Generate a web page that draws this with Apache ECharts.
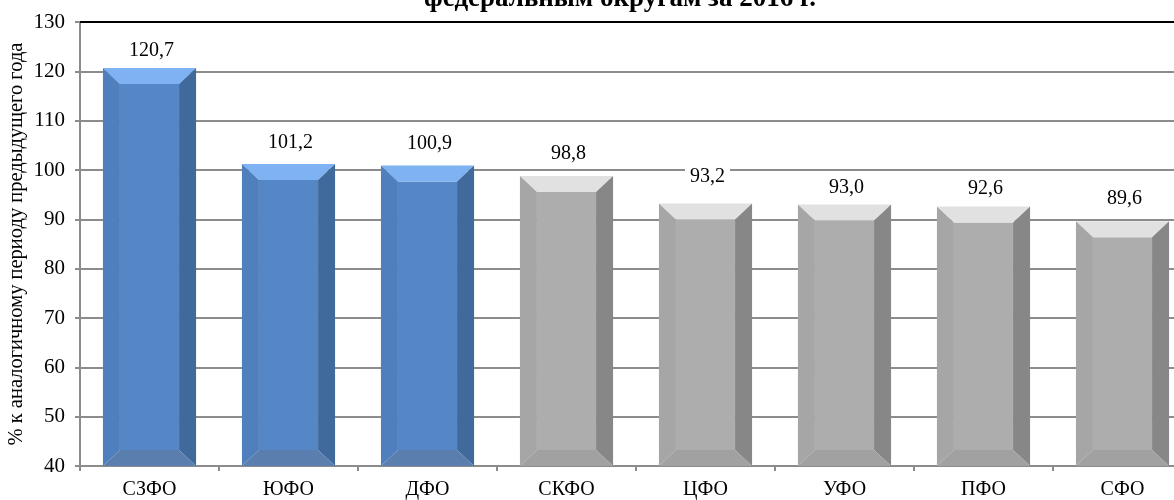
<!DOCTYPE html>
<html>
<head>
<meta charset="utf-8">
<script src="https://cdn.jsdelivr.net/npm/echarts@6/dist/echarts.min.js"></script>
<style>
  html, body { margin: 0; padding: 0; background: #fff; }
  #chart { width: 1174px; height: 500px; }
</style>
</head>
<body>
<div id="chart"></div>
<script>
// Federal districts and their index values (% of the same period of the previous year)
const categories = ['СЗФО', 'ЮФО', 'ДФО', 'СКФО', 'ЦФО', 'УФО', 'ПФО', 'СФО'];
const values = [120.7, 101.2, 100.9, 98.8, 93.2, 93.0, 92.6, 89.6];
const yTicks = [40, 50, 60, 70, 80, 90, 100, 110, 120, 130];

// How far above each bar top its value label sits (px)
const labelLift = [17, 21, 22, 22, 27, 17, 18, 23];

const FONT = '"Liberation Serif", "Times New Roman", serif';
const AXIS_MIN = yTicks[0];
const AXIS_MAX = yTicks[yTicks.length - 1];

// Face colours of the bevelled bars: growth (>100) in blue, decline in grey
const palettes = {
  up:   { front: '#5587c6', top: '#7fb2f2', left: '#4f7fbd', right: '#40699c', bottom: '#5a7faf' },
  down: { front: '#adadad', top: '#e1e1e1', left: '#a6a6a6', right: '#878787', bottom: '#a1a1a1' }
};

const BEVEL_X = 17;
const BEVEL_Y = 16;

function renderBar(params, api) {
  const idx = api.value(0);
  const val = api.value(1);
  const top = api.coord([idx, val]);
  const base = api.coord([idx, AXIS_MIN]);
  const w = api.size([1, 0])[0] * 0.67;
  const x0 = top[0] - w / 2, x1 = top[0] + w / 2;
  const y0 = top[1], y1 = base[1];
  const p = val > 100 ? palettes.up : palettes.down;
  const bx = BEVEL_X, by = Math.min(BEVEL_Y, (y1 - y0) / 2);
  const poly = (pts, fill) => ({ type: 'polygon', shape: { points: pts }, style: { fill: fill } });
  const label = String(val.toFixed(1)).replace('.', ',');
  return {
    type: 'group',
    children: [
      { type: 'rect', shape: { x: x0 + bx, y: y0 + by, width: w - 2 * bx, height: y1 - y0 - 2 * by }, style: { fill: p.front } },
      poly([[x0, y0], [x1, y0], [x1 - bx, y0 + by], [x0 + bx, y0 + by]], p.top),
      poly([[x0, y0], [x0 + bx, y0 + by], [x0 + bx, y1 - by], [x0, y1]], p.left),
      poly([[x1, y0], [x1, y1], [x1 - bx, y1 - by], [x1 - bx, y0 + by]], p.right),
      poly([[x0, y1], [x0 + bx, y1 - by], [x1 - bx, y1 - by], [x1, y1]], p.bottom),
      {
        type: 'text',
        z2: 10,
        style: {
          text: label,
          x: top[0] + 2,
          y: y0 - labelLift[params.dataIndex],
          align: 'center',
          verticalAlign: 'middle',
          font: '20px ' + FONT,
          fill: '#000',
          backgroundColor: '#fff',
          padding: [2, 5]
        }
      }
    ]
  };
}

const chart = echarts.init(document.getElementById('chart'), null, { renderer: 'canvas' });

chart.setOption({
  animation: false,
  backgroundColor: '#fff',
  title: {
    text: 'федеральным округам за 2016 г.',
    left: 615,
    textAlign: 'center',
    top: -19,
    textStyle: { fontFamily: FONT, fontSize: 27, fontWeight: 'bold', color: '#000' }
  },
  grid: { left: 80, top: 22, right: -18, bottom: 34, containLabel: false, outerBoundsMode: 'none' },
  xAxis: [
    {
      type: 'category',
      data: categories,
      axisLine: { lineStyle: { color: '#8c8c8c', width: 2 } },
      axisTick: { show: true, length: 5, lineStyle: { color: '#8c8c8c', width: 2 } },
      axisLabel: { fontFamily: FONT, fontSize: 20, color: '#000', margin: 14 },
      splitLine: { show: false }
    },
    {
      type: 'category',
      position: 'top',
      data: categories,
      axisLine: { lineStyle: { color: '#000', width: 2 } },
      axisTick: { show: false },
      axisLabel: { show: false }
    }
  ],
  yAxis: {
    type: 'value',
    min: AXIS_MIN,
    max: AXIS_MAX,
    interval: 10,
    name: '% к аналогичному периоду предыдущего года',
    nameLocation: 'middle',
    nameGap: 53,
    nameMoveOverlap: false,
    nameTextStyle: { fontFamily: FONT, fontSize: 20.5, color: '#000' },
    axisLine: { show: true, lineStyle: { color: '#8c8c8c', width: 2 } },
    axisTick: { show: true, length: 5, lineStyle: { color: '#8c8c8c', width: 2 } },
    axisLabel: { fontFamily: FONT, fontSize: 21, color: '#000', margin: 15 },
    splitLine: { show: true, lineStyle: { color: '#8c8c8c', width: 2 } }
  },
  series: [{
    type: 'custom',
    renderItem: renderBar,
    encode: { x: 0, y: 1 },
    data: values.map((v, i) => [i, v]),
    clip: false
  }]
});
</script>
</body>
</html>
